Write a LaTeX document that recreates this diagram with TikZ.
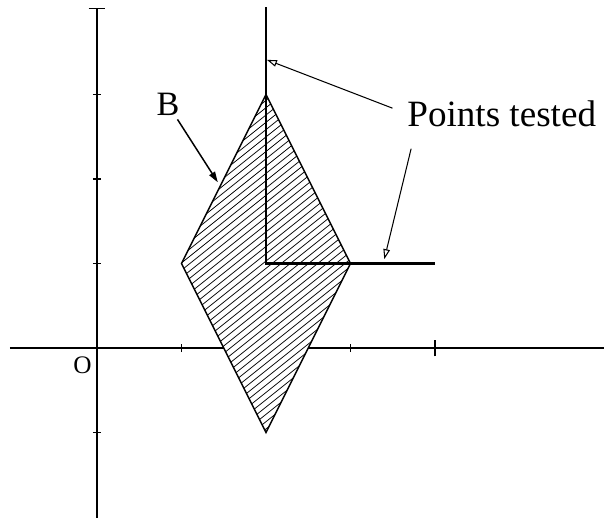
\documentclass[tikz,border=0pt]{standalone}
\usepackage{fontspec}
\setmainfont{Liberation Serif}
\usetikzlibrary{arrows.meta,positioning}
\tikzset{
  axis/.style={line width=0.45pt, black},
  tickmark/.style={line width=0.45pt, black},
  testline/.style={line width=1pt, black},
  hatch/.style={line width=0.25pt, black},
  pointer/.style={line width=0.5pt, -{Stealth[length=3.6pt,width=2.2pt,inset=0pt]}},
  hollowpointer/.style={line width=0.35pt, -{Triangle[open,length=3.4pt,width=2.2pt]}}
}
\begin{document}
\begin{tikzpicture}
  \useasboundingbox (-1.148,-2.036) rectangle (6.0,4.118);

  %% axes and ticks
  \draw[axis] (-1.03,0) -- (6.0,0);
  \draw[axis] (0,-2.01) -- (0,4.02);
  \foreach \y in {-1,1,2,3} \draw[tickmark] (-0.05,\y) -- (0.05,\y);
  \draw[tickmark] (-0.1,4.02) -- (0.1,4.02);
  \foreach \x in {1,3} \draw[tickmark] (\x,-0.05) -- (\x,0.05);
  \draw[tickmark] (4,-0.1) -- (4,0.1);
  \node[font=\fontsize{8.5}{10}\selectfont, inner sep=0pt] (lblO) at (-0.172,-0.2) {O};

  %% set B
  \coordinate (top) at (2,3);
  \coordinate (rgt) at (3,1);
  \coordinate (bot) at (2,-1);
  \coordinate (lft) at (1,1);
  \fill[white] (top) -- (rgt) -- (bot) -- (lft) -- cycle;
  \begin{scope}
    \clip (top) -- (rgt) -- (bot) -- (lft) -- cycle;
    \foreach \i in {0,...,68} \draw[hatch] (-4.1+0.108*\i,-1) -- ++(5,4);
  \end{scope}
  \draw[line width=0.5pt] (top) -- (rgt) -- (bot) -- (lft) -- cycle;

  %% tested points
  \coordinate (pivot) at (2,1);
  \coordinate (vend) at (2,4.03);
  \coordinate (hend) at (4,1);
  \draw[testline] (vend) -- (pivot) -- (hend);

  %% labels
  \node[font=\fontsize{11.5}{13}\selectfont, inner sep=1pt] (lblB) at (0.84,2.88) {B};
  \coordinate (tipB) at (1.43,1.96);
  \draw[pointer] (lblB) -- (tipB);

  \node[font=\fontsize{12.5}{15}\selectfont, inner xsep=0.17cm, inner ysep=0.25cm] (lblPts) at (4.79,2.77) {Points tested};
  \coordinate (tipV) at (2.01,3.41);
  \coordinate (tipH) at (3.40,1.05);
  \draw[hollowpointer] (lblPts.177) -- (tipV);
  \draw[hollowpointer] (lblPts.201) -- (tipH);
\end{tikzpicture}
\end{document}
